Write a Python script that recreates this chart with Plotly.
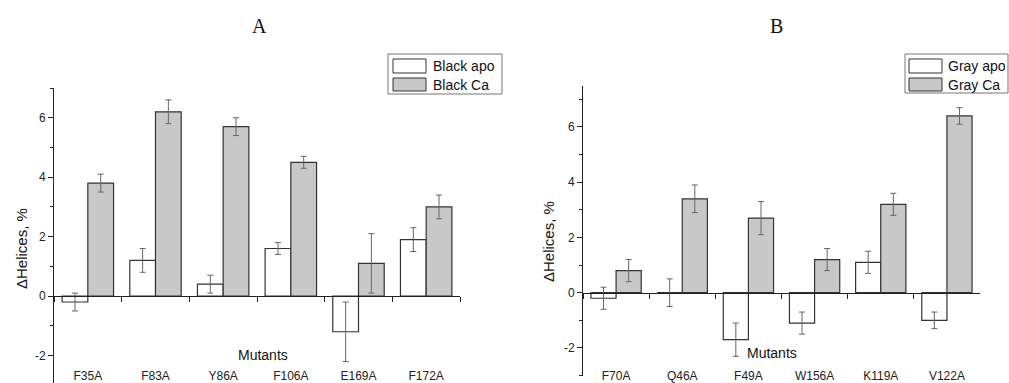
import plotly.graph_objects as go

# ---------------- data ----------------
a_categories = ["F35A", "F83A", "Y86A", "F106A", "E169A", "F172A"]
a_apo = [-0.2, 1.2, 0.4, 1.6, -1.2, 1.9]
a_apo_err = [0.3, 0.4, 0.3, 0.2, 1.0, 0.4]
a_ca = [3.8, 6.2, 5.7, 4.5, 1.1, 3.0]
a_ca_err = [0.3, 0.4, 0.3, 0.2, 1.0, 0.4]

b_categories = ["F70A", "Q46A", "F49A", "W156A", "K119A", "V122A"]
b_apo = [-0.2, 0.0, -1.7, -1.1, 1.1, -1.0]
b_apo_err = [0.4, 0.5, 0.6, 0.4, 0.4, 0.3]
b_ca = [0.8, 3.4, 2.7, 1.2, 3.2, 6.4]
b_ca_err = [0.4, 0.5, 0.6, 0.4, 0.4, 0.3]

a_series_names = ["Black apo", "Black Ca"]
b_series_names = ["Gray apo", "Gray Ca"]

y_tickvals = [-2, 0, 2, 4, 6]
y_ticktext = ["-2", "0", "2", "4", "6"]
y_minorvals = [-3, -1, 1, 3, 5, 7]

# ---------------- styles ----------------
W, H = 1009, 383
FONT = "Liberation Sans, Arial, sans-serif"
SERIF = "Liberation Serif, Times New Roman, serif"
OUTLINE = "#333333"
APO_FILL = "white"
CA_FILL = "#c8c8c8"
ERR = dict(type="data", color="#666666", thickness=1, width=3)


def px_x(p):
    return p / W


def px_y(p):
    return 1 - p / H


fig = go.Figure()


def add_pair(cats, apo, apo_err, ca, ca_err, names, xa, ya):
    fig.add_trace(go.Bar(
        x=cats, y=apo, name=names[0], xaxis=xa, yaxis=ya, showlegend=False,
        marker=dict(color=APO_FILL, line=dict(color=OUTLINE, width=1.2)),
        error_y=dict(array=apo_err, **ERR),
    ))
    fig.add_trace(go.Bar(
        x=cats, y=ca, name=names[1], xaxis=xa, yaxis=ya, showlegend=False,
        marker=dict(color=CA_FILL, line=dict(color=OUTLINE, width=1.2)),
        error_y=dict(array=ca_err, **ERR),
    ))


add_pair(a_categories, a_apo, a_apo_err, a_ca, a_ca_err, a_series_names, "x", "y")
add_pair(b_categories, b_apo, b_apo_err, b_ca, b_ca_err, b_series_names, "x2", "y2")

xaxis_common = dict(
    type="category", anchor="free", showline=True, linecolor="#222222",
    linewidth=1, ticks="outside", ticklen=5, tickcolor="#222222",
    tickson="boundaries", showgrid=False, zeroline=False,
    tickfont=dict(family=FONT, size=12, color="#222222"),
)
yaxis_common = dict(
    showline=True, linecolor="#222222", linewidth=1, ticks="outside",
    ticklen=5, tickcolor="#222222", showgrid=False, zeroline=False,
    tickmode="array", tickvals=y_tickvals, ticktext=y_ticktext,
    tickfont=dict(family=FONT, size=12, color="#222222"),
    minor=dict(tickmode="array", tickvals=y_minorvals, ticks="outside",
               ticklen=3, tickcolor="#222222", showgrid=False),
)

# panel A: zero at y=296px, 7 at 88px -> 29.75 px/unit, bottom at 383px
a_bottom = (296 - 383) / 29.75
fig.update_layout(
    width=W, height=H,
    margin=dict(l=0, r=0, t=0, b=0, autoexpand=False),
    paper_bgcolor="white", plot_bgcolor="white",
    barmode="group", bargap=0.24, bargroupgap=0.0,
    font=dict(family=FONT, color="#222222"),
    showlegend=False,
    xaxis=dict(domain=[px_x(54), px_x(460)], position=px_y(296),
               ticklabelstandoff=69, **xaxis_common),
    yaxis=dict(domain=[0, px_y(88)], range=[a_bottom, 7], anchor="x", **yaxis_common),
    xaxis2=dict(domain=[px_x(583), px_x(980)], position=px_y(292.7),
                ticklabelstandoff=72, **xaxis_common),
    yaxis2=dict(domain=[px_y(375.6), px_y(85.5)], range=[-3, 7.5], anchor="x2", **yaxis_common),
)

# ---------------- legends (boxes with swatches) ----------------
def add_legend(box, sw_x, rows, text_x, names):
    x0, y0, x1, y1 = box
    fig.add_shape(type="rect", xref="paper", yref="paper",
                  x0=px_x(x0), x1=px_x(x1), y0=px_y(y1), y1=px_y(y0),
                  line=dict(color="#777777", width=1), fillcolor="white", layer="above")
    for (ry0, ry1), fill, name in zip(rows, [APO_FILL, CA_FILL], names):
        fig.add_shape(type="rect", xref="paper", yref="paper",
                      x0=px_x(sw_x[0]), x1=px_x(sw_x[1]), y0=px_y(ry1), y1=px_y(ry0),
                      line=dict(color=OUTLINE, width=1), fillcolor=fill, layer="above")
        fig.add_annotation(xref="paper", yref="paper", showarrow=False,
                           x=px_x(text_x), y=px_y((ry0 + ry1) / 2),
                           xanchor="left", yanchor="middle", text=name,
                           font=dict(family=FONT, size=14, color="#111111"))


add_legend((388, 54, 502, 94), (393, 426), [(59, 73), (78, 91)], 431, a_series_names)
add_legend((905, 54, 1008, 93), (909, 942), [(59, 73), (78, 91)], 946, b_series_names)

annos = [
    dict(text="A", x=px_x(259), y=px_y(26), font=dict(family=SERIF, size=20, color="#111111")),
    dict(text="B", x=px_x(776), y=px_y(26), font=dict(family=SERIF, size=20, color="#111111")),
    dict(text="Mutants", x=px_x(263), y=px_y(355), font=dict(family=FONT, size=14, color="#111111")),
    dict(text="Mutants", x=px_x(772), y=px_y(353), font=dict(family=FONT, size=14, color="#111111")),
    dict(text="ΔHelices, %", x=px_x(21), y=px_y(249), textangle=-90, font=dict(family=FONT, size=15, color="#111111")),
    dict(text="ΔHelices, %", x=px_x(548), y=px_y(242), textangle=-90, font=dict(family=FONT, size=15, color="#111111")),
]
for a in annos:
    fig.add_annotation(xref="paper", yref="paper", showarrow=False,
                       xanchor="center", yanchor="middle", **a)

fig.write_html("out.html")
